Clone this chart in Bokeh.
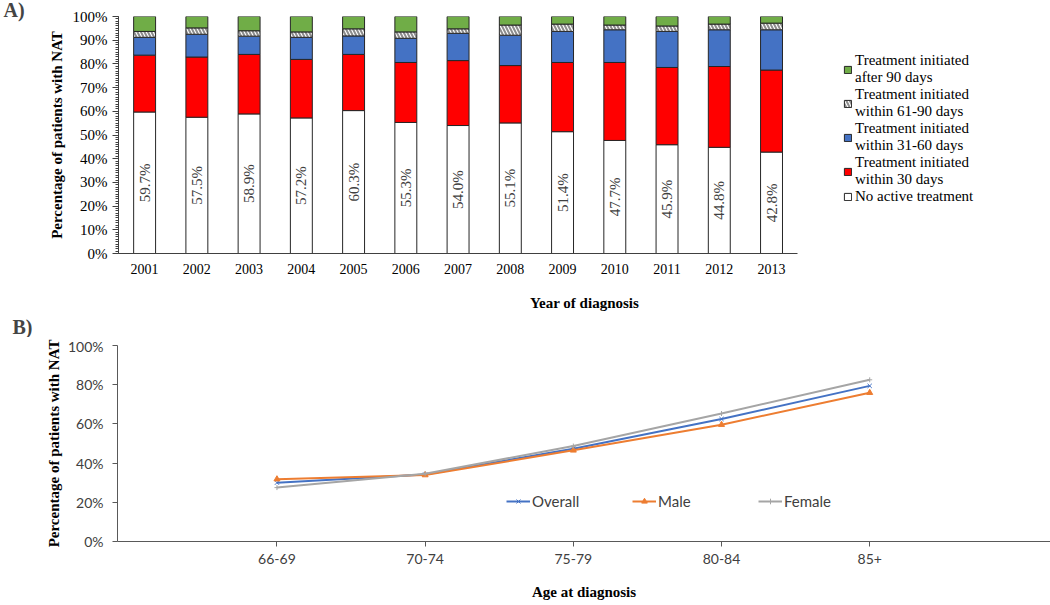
import numpy as np
from bokeh.plotting import figure
from bokeh.models import (ColumnDataSource, Range1d, Legend, LegendItem, Title,
                          PrintfTickFormatter, SingleIntervalTicker, FixedTicker)
from bokeh.embed import file_html
from bokeh.resources import INLINE
from bokeh.transform import stack
from bokeh.core.properties import value

# ---------------- data: panel A ----------------
years = ["2001", "2002", "2003", "2004", "2005", "2006", "2007",
         "2008", "2009", "2010", "2011", "2012", "2013"]
no_active = [59.7, 57.5, 58.9, 57.2, 60.3, 55.3, 54.0, 55.1, 51.4, 47.7, 45.9, 44.8, 42.8]
within_30 = [24.0, 25.4, 25.1, 24.7, 23.7, 25.3, 27.4, 24.2, 29.2, 32.9, 32.6, 34.1, 34.6]
within_31_60 = [7.5, 9.6, 7.7, 9.3, 7.8, 10.2, 11.5, 12.8, 13.1, 13.8, 15.2, 15.5, 17.0]
within_61_90 = [2.5, 2.7, 2.3, 2.3, 3.0, 2.7, 1.9, 4.3, 3.1, 2.0, 2.3, 2.4, 2.8]
after_90 = [6.3, 4.8, 6.0, 6.5, 5.2, 6.5, 5.2, 3.6, 3.2, 3.6, 4.0, 3.2, 2.8]
series_labels = ["No active treatment",
                 "Treatment initiated\nwithin 30 days",
                 "Treatment initiated\nwithin 31-60 days",
                 "Treatment initiated\nwithin 61-90 days",
                 "Treatment initiated\nafter 90 days"]

# ---------------- data: panel B ----------------
ages = ["66-69", "70-74", "75-79", "80-84", "85+"]
overall = [30.0, 34.2, 47.3, 62.5, 79.4]
male = [31.8, 33.9, 46.5, 59.6, 75.9]
female = [27.5, 34.6, 48.7, 65.3, 82.5]

SERIF = "Liberation Serif"
SANS = "Lato"


def set_prop(obj, name, val, fallback):
    try:
        setattr(obj, name, val)
    except Exception:
        setattr(obj, name, fallback)


# ================= Panel A =================
fields = ["none", "d30", "d31_60", "d61_90", "d90"]
year_pos = list(range(1, len(years) + 1))
src = ColumnDataSource(dict(x=year_pos, none=no_active, d30=within_30, d31_60=within_31_60,
                            d61_90=within_61_90, d90=after_90,
                            label_y=[v / 2 for v in no_active],
                            label_txt=[f"{v:.1f}%" for v in no_active]))

p1 = figure(x_range=Range1d(0.5, 18.34), y_range=Range1d(0, 100),
            width=1050, height=337, output_backend="svg", toolbar_location=None,
            min_border_left=118, min_border_right=0, min_border_top=16, min_border_bottom=78)
p1.outline_line_color = None
p1.xgrid.grid_line_color = None
p1.ygrid.grid_line_color = None

colors = ["white", "#FF0000", "#4472C4", "white", "#70AD47"]
rends = []
for i, f in enumerate(fields):
    kw = {}
    if f == "d61_90":
        kw = dict(hatch_pattern="left_diagonal_line", hatch_color="#8c8c8c",
                  hatch_weight=2, hatch_scale=7)
    bottom = stack(*fields[:i]) if i else 0
    r = p1.vbar(x="x", width=0.42, bottom=bottom, top=stack(*fields[:i + 1]), source=src,
                fill_color=colors[i], line_color="#262626", line_width=1, **kw)
    rends.append(r)

p1.text(x="x", y="label_y", text="label_txt", source=src, angle=np.pi / 2,
        text_align="center", text_baseline="middle", text_font=value(SERIF),
        text_font_size="15px", text_color="#404040")

items = [LegendItem(label=series_labels[i], renderers=[rends[i]]) for i in reversed(range(5))]
leg1 = Legend(items=items, location=(725, 48), margin=0, padding=0,
              border_line_color=None, background_fill_alpha=0,
              glyph_width=9, glyph_height=9, label_standoff=3,
              label_text_font=SERIF, label_text_font_size="15px",
              label_text_color="#000000", label_text_line_height=1.0)
set_prop(leg1, "spacing", -4, 0)
p1.add_layout(leg1)

ya = p1.yaxis[0]
ya.ticker = SingleIntervalTicker(interval=10, num_minor_ticks=10)
ya.formatter = PrintfTickFormatter(format="%d%%")
ya.major_tick_out = 6
ya.major_tick_in = 0
ya.minor_tick_out = 3
ya.minor_tick_in = 0
ya.major_label_standoff = 5
ya.axis_label = "Percentage of patients with NAT"
ya.axis_label_standoff = 5

xa = p1.xaxis[0]
xa.ticker = FixedTicker(ticks=year_pos)
xa.major_label_overrides = {pos: y for pos, y in zip(year_pos, years)}
xa.bounds = (0.5, len(years) + 0.5)
xa.major_tick_out = 0
xa.major_tick_in = 0
xa.minor_tick_line_color = None
xa.major_label_standoff = 10
xa.axis_label = "Year of diagnosis"
xa.axis_label_standoff = 18

for ax in (ya, xa):
    ax.axis_line_color = "#404040"
    ax.major_tick_line_color = "#404040"
    ax.major_label_text_font = SERIF
    ax.major_label_text_font_size = "15px"
    ax.major_label_text_color = "#000000"
    ax.axis_label_text_font = SERIF
    ax.axis_label_text_font_size = "15px"
    ax.axis_label_text_font_style = "bold"
    ax.axis_label_text_color = "#000000"
ya.minor_tick_line_color = "#404040"
xa.major_label_text_font_size = "14px"

p1.title.text = "A)"
p1.title.align = "left"
p1.title.offset = -115
p1.title.text_font = SERIF
p1.title.text_font_size = "20px"
p1.title.text_font_style = "bold"
set_prop(p1.title, "standoff", -8, 0)

tb = Title(text="B)", align="left", offset=-106, text_font=SERIF,
           text_font_size="20px", text_font_style="bold", standoff=0)
p1.add_layout(tb, "below")

# ================= Panel B =================
age_pos = list(range(1, len(ages) + 1))
src2 = ColumnDataSource(dict(x=age_pos, overall=overall, male=male, female=female))

p2 = figure(x_range=Range1d(-0.076, 6.22), y_range=Range1d(0, 100),
            width=1050, height=267, output_backend="svg", toolbar_location=None,
            min_border_left=117, min_border_right=0, min_border_top=8, min_border_bottom=63)
p2.outline_line_color = None
p2.xgrid.grid_line_color = None
p2.ygrid.grid_line_color = None

l_o = p2.line("x", "overall", source=src2, line_color="#4472C4", line_width=2)
m_o = p2.scatter("x", "overall", source=src2, marker="x", size=6, line_color="#4472C4", line_width=1)
l_m = p2.line("x", "male", source=src2, line_color="#ED7D31", line_width=2)
m_m = p2.scatter("x", "male", source=src2, marker="triangle", size=6,
                 fill_color="#ED7D31", line_color="#ED7D31")
l_f = p2.line("x", "female", source=src2, line_color="#A5A5A5", line_width=2)
m_f = p2.scatter("x", "female", source=src2, marker="cross", size=5, line_color="#A5A5A5", line_width=1)

leg2 = Legend(items=[LegendItem(label="Overall", renderers=[l_o, m_o]),
                     LegendItem(label="Male", renderers=[l_m, m_m]),
                     LegendItem(label="Female", renderers=[l_f, m_f])],
              location=(389, 31), orientation="horizontal", padding=0, margin=0,
              border_line_color=None, background_fill_alpha=0,
              glyph_width=24, glyph_height=14, label_standoff=2, label_width=95, spacing=5,
              label_text_font=SANS, label_text_font_size="15px", label_text_color="#404040")
p2.add_layout(leg2)

ya2 = p2.yaxis[0]
ya2.ticker = SingleIntervalTicker(interval=20, num_minor_ticks=0)
ya2.formatter = PrintfTickFormatter(format="%d%%")
ya2.major_tick_out = 5
ya2.major_tick_in = 0
ya2.minor_tick_line_color = None
ya2.major_label_standoff = 9
ya2.axis_label = "Percentage of patients with NAT"
ya2.axis_label_standoff = 3

xa2 = p2.xaxis[0]
xa2.ticker = FixedTicker(ticks=age_pos)
xa2.major_label_overrides = {pos: lab for pos, lab in zip(age_pos, ages)}
xa2.major_tick_out = 5
xa2.major_tick_in = 0
xa2.minor_tick_line_color = None
xa2.major_label_standoff = 7
xa2.axis_label = "Age at diagnosis"
xa2.axis_label_standoff = 17

for ax in (ya2, xa2):
    ax.axis_line_color = "#595959"
    ax.major_tick_line_color = "#595959"
    ax.major_label_text_font = SANS
    ax.major_label_text_font_size = "14px"
    ax.major_label_text_color = "#404040"
    ax.axis_label_text_font = SERIF
    ax.axis_label_text_font_size = "15px"
    ax.axis_label_text_font_style = "bold"
    ax.axis_label_text_color = "#000000"

open("out.html", "w").write(file_html([p1, p2], INLINE))
